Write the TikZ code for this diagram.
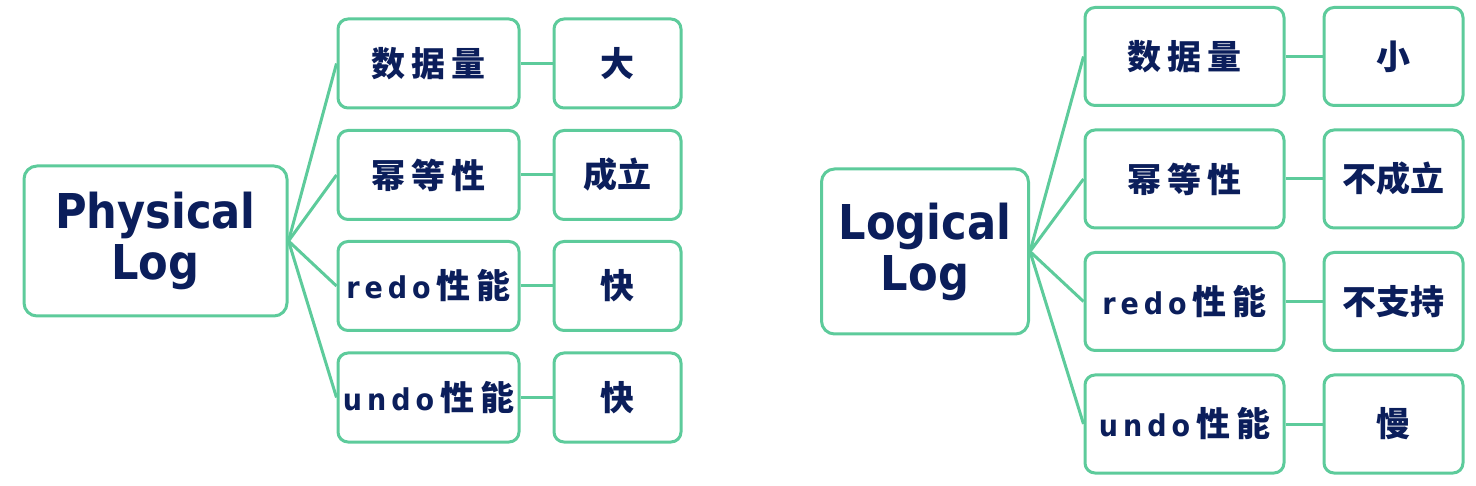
\documentclass[tikz,border=0pt]{standalone}
\usepackage{fontspec}
\newfontfamily\cjk{Noto Sans CJK SC}
\newfontfamily\titlefont{DejaVu Sans Condensed}
\definecolor{navy}{HTML}{0B1E5B}
\definecolor{mint}{HTML}{5DCB9B}
\newcommand\sk{\hspace{6pt}}
\newcommand\lk{\hspace{5pt}}
\newcommand\lat[1]{{\titlefont\bfseries\fontsize{30}{38}\selectfont #1}}
\begin{document}
\begin{tikzpicture}[x=1pt,y=-1pt,
  box/.style={draw=mint,line width=3pt,rounded corners=10pt,fill=white,
    inner sep=0pt,text=navy,align=center},
  titlebox/.style={box,rounded corners=13pt,font=\titlefont\bfseries\fontsize{48}{51}\selectfont},
  colbox/.style={box,font=\cjk\bfseries\fontsize{34}{38}\selectfont},
  valbox/.style={box,font=\cjk\bfseries\fontsize{34}{38}\selectfont},
  link/.style={draw=mint,line width=3pt}]
\useasboundingbox (0,0) rectangle (1476,486);
% ---------- left ----------
\node[titlebox,minimum width=263pt,minimum height=150pt] (pl) at (155.5,241) {Physical\\Log};
\foreach \n/\y/\t in {1/63.5/数\sk{}据\sk{}量, 2/175/幂\sk{}等\sk{}性, 3/286/\lat{r\lk{}e\lk{}d\lk{}o}\sk{}性\sk{}能, 4/397.5/\lat{u\lk{}n\lk{}d\lk{}o}\sk{}性\sk{}能}{
  \node[colbox,minimum width=181pt,minimum height=89pt] (lc\n) at (428.5,\y) {\t};
}
\node[valbox,minimum width=127pt,minimum height=89pt] (lv1) at (617.5,63.5) {大};
\node[valbox,minimum width=127pt,minimum height=89pt] (lv2) at (617.5,175) {成立};
\node[valbox,minimum width=127pt,minimum height=89pt] (lv3) at (617.5,286) {快};
\node[valbox,minimum width=127pt,minimum height=89pt] (lv4) at (617.5,397.5) {快};
\foreach \n in {1,...,4}{
  \draw[link] (pl.east) -- (lc\n.west);
  \draw[link] (lc\n.east) -- (lv\n.west);
}
% ---------- right ----------
\node[titlebox,minimum width=207pt,minimum height=165pt] (ll) at (925,251.5) {Logical\\Log};
\foreach \n/\y/\t in {1/56.5/数\sk{}据\sk{}量, 2/179/幂\sk{}等\sk{}性, 3/301.5/\lat{r\lk{}e\lk{}d\lk{}o}\sk{}性\sk{}能, 4/424/\lat{u\lk{}n\lk{}d\lk{}o}\sk{}性\sk{}能}{
  \node[colbox,minimum width=199pt,minimum height=98pt] (rc\n) at (1184.5,\y) {\t};
}
\node[valbox,minimum width=139pt,minimum height=98pt] (rv1) at (1393.5,56.5) {小};
\node[valbox,minimum width=139pt,minimum height=98pt] (rv2) at (1393.5,179) {不成立};
\node[valbox,minimum width=139pt,minimum height=98pt] (rv3) at (1393.5,301.5) {不支持};
\node[valbox,minimum width=139pt,minimum height=98pt] (rv4) at (1393.5,424) {慢};
\foreach \n in {1,...,4}{
  \draw[link] (ll.east) -- (rc\n.west);
  \draw[link] (rc\n.east) -- (rv\n.west);
}
\end{tikzpicture}
\end{document}
